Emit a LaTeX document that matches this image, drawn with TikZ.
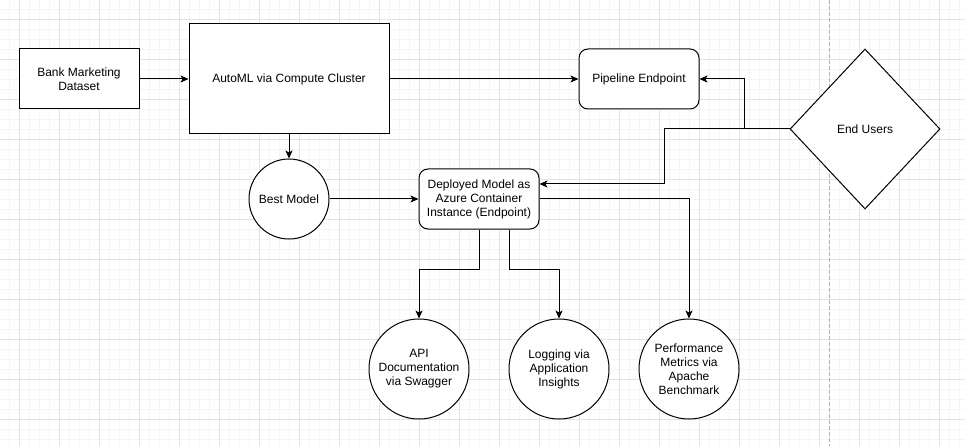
\documentclass[tikz,border=0pt]{standalone}
\usepackage{fontspec}
\setmainfont{Liberation Sans}
\usetikzlibrary{shapes.geometric,arrows.meta}
\definecolor{gridminor}{HTML}{F5F5F5}
\definecolor{gridmajor}{HTML}{E4E4E4}
\definecolor{dashgray}{HTML}{B0B0B0}
\tikzset{
  every node/.style={font=\fontsize{12}{14}\selectfont, align=center, inner sep=0pt},
  box/.style={draw, line width=1pt, fill=white, minimum width=120pt, minimum height=60pt},
  rbox/.style={box, rounded corners=9pt},
  circ/.style={draw, line width=1pt, fill=white, circle},
  conn/.style={line width=1pt, -{Stealth[length=8pt,width=7pt,inset=2pt]}},
  link/.style={line width=1pt},
}
\begin{document}
\begin{tikzpicture}[x=1pt,y=-1pt]
\useasboundingbox (0,0) rectangle (965,446);
\fill[white] (0,0) rectangle (965,446);
% grid
\foreach \i in {0,...,96} {
  \draw[gridminor, line width=0.8pt] (\i*10+9.5,0) -- (\i*10+9.5,446);
}
\foreach \i in {0,...,44} {
  \draw[gridminor, line width=0.8pt] (0,\i*10+9.5) -- (965,\i*10+9.5);
}
\foreach \i in {0,...,24} {
  \draw[gridmajor, line width=0.8pt] (\i*40+19.5,0) -- (\i*40+19.5,446);
}
\foreach \i in {0,...,11} {
  \draw[gridmajor, line width=0.8pt] (0,\i*40+19.5) -- (965,\i*40+19.5);
}
\draw[dashgray, line width=0.8pt, dash pattern=on 4pt off 2pt] (829.5,0) -- (829.5,446);

% nodes
\node[box] (bank) at (79,79) {Bank Marketing\\Dataset};
\node[box, minimum width=200pt, minimum height=110pt] (automl) at (289,79) {AutoML via Compute Cluster};
\node[rbox] (pipe) at (639,79) {Pipeline Endpoint};
\node[circ, minimum size=80pt] (best) at (289,199) {Best Model};
\node[rbox] (dep) at (479,199) {Deployed Model as\\Azure Container\\Instance (Endpoint)};
\node[draw, line width=1pt, fill=white, diamond, aspect=0.9375, minimum width=150pt, minimum height=160pt] (users) at (865,129) {End Users};
\node[circ, minimum size=100pt] (api) at (419,369) {API\\Documentation\\via Swagger};
\node[circ, minimum size=100pt] (log) at (559,369) {Logging via\\Application\\Insights};
\node[circ, minimum size=100pt] (perf) at (689,369) {Performance\\Metrics via\\Apache\\Benchmark};

\coordinate (j1) at (744,129);
\coordinate (j2) at (664,129);

% connectors
\draw[conn] (bank.east) -- (automl.west);
\draw[conn] (automl.south) -- (best.north);
\draw[conn] (automl.east) -- (pipe.west);
\draw[conn] (best.east) -- (dep.west);
\draw[link] (users.west) -- (j2);
\draw[conn] (j1) |- (pipe.east);
\draw[conn] (j2) |- ([yshift=15pt]dep.east);
\draw[conn] (dep.east) -| (perf.north);
\draw[conn] (dep.south) -- ++(0,40) -| (api.north);
\draw[conn] ([xshift=30pt]dep.south) -- ++(0,40) -| (log.north);
\end{tikzpicture}
\end{document}
